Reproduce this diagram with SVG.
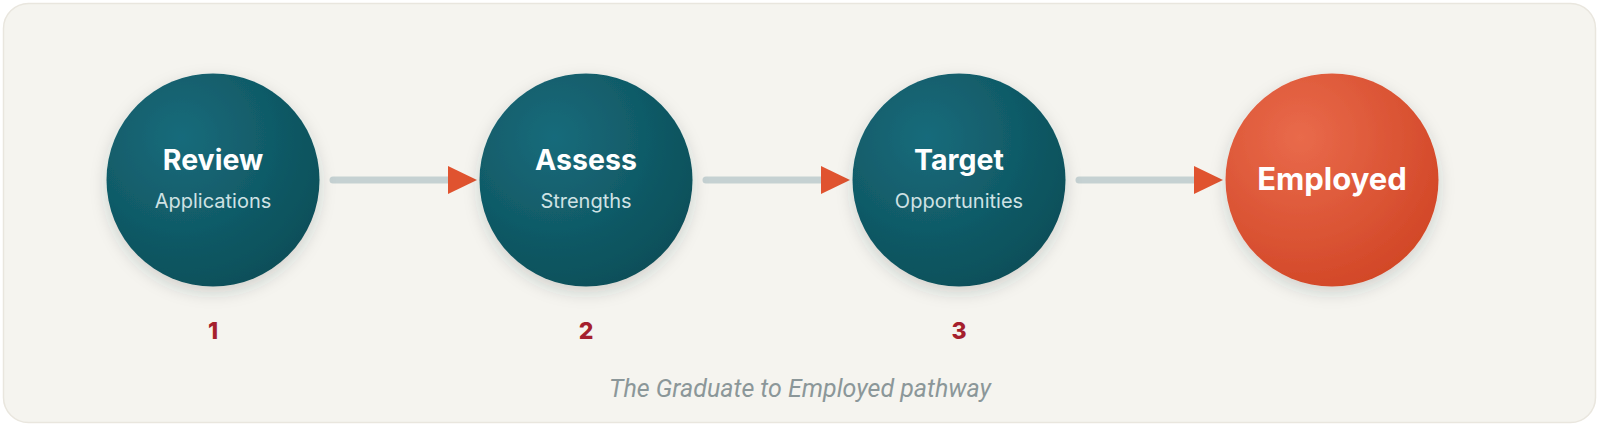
<svg xmlns="http://www.w3.org/2000/svg" width="1600" height="427" viewBox="0 0 1600 427">
<defs>
<radialGradient id="gTeal" cx="0.35" cy="0.3" r="0.75">
<stop offset="0" stop-color="#186b7b"/>
<stop offset="1" stop-color="#0b4f59"/>
</radialGradient>
<radialGradient id="gOrange" cx="0.35" cy="0.3" r="0.75">
<stop offset="0" stop-color="#e96a4b"/>
<stop offset="1" stop-color="#d24727"/>
</radialGradient>
<filter id="shadow" x="-30%" y="-30%" width="160%" height="160%">
<feDropShadow dx="0" dy="6" stdDeviation="8" flood-color="#1d3a3a" flood-opacity="0.18"/>
</filter>
<marker id="arrow" viewBox="0 0 29 28" refX="0" refY="14" markerWidth="29" markerHeight="28" markerUnits="userSpaceOnUse" orient="auto">
<path d="M0,0 L29,14 L0,28 Z" fill="#e0532f"/>
</marker>
</defs>
<style>
.title{font-family:Inter,"Liberation Sans",sans-serif;font-weight:700;font-size:28.5px;fill:#ffffff;text-anchor:middle}
.sub{font-family:Inter,"Liberation Sans",sans-serif;font-weight:400;font-size:20px;fill:#cfe2e4;text-anchor:middle}
.num{font-family:Inter,"Liberation Sans",sans-serif;font-weight:800;font-size:23px;fill:#a51f2d;text-anchor:middle}
.cap{font-family:Roboto,"Liberation Sans",sans-serif;font-style:italic;font-size:25px;fill:#8b9799;text-anchor:middle}
.conn{stroke:#c5d1d2;stroke-width:7;stroke-linecap:round;fill:none}
</style>
<rect x="0" y="0" width="1600" height="427" fill="#ffffff"/>
<rect x="3.5" y="3.5" width="1592" height="419" rx="25" ry="25" fill="#f5f4ef" stroke="#e9e6de" stroke-width="1.5"/>
<g id="connectors">
<line class="conn" x1="333" y1="180" x2="448" y2="180" marker-end="url(#arrow)"/>
<line class="conn" x1="706" y1="180" x2="821" y2="180" marker-end="url(#arrow)"/>
<line class="conn" x1="1079" y1="180" x2="1194" y2="180" marker-end="url(#arrow)"/>
</g>
<g id="node-review">
<circle cx="213" cy="180" r="106.5" fill="url(#gTeal)" filter="url(#shadow)"/>
<text class="title" x="213" y="170">Review</text>
<text class="sub" x="213" y="208">Applications</text>
</g>
<g id="node-assess">
<circle cx="586" cy="180" r="106.5" fill="url(#gTeal)" filter="url(#shadow)"/>
<text class="title" x="586" y="170">Assess</text>
<text class="sub" x="586" y="208">Strengths</text>
</g>
<g id="node-target">
<circle cx="959" cy="180" r="106.5" fill="url(#gTeal)" filter="url(#shadow)"/>
<text class="title" x="959" y="170">Target</text>
<text class="sub" x="959" y="208">Opportunities</text>
</g>
<g id="node-employed">
<circle cx="1332" cy="180" r="106.5" fill="url(#gOrange)" filter="url(#shadow)"/>
<text class="title" x="1332" y="190" style="font-size:31px">Employed</text>
</g>
<g id="labels">
<text class="num" x="213" y="339">1</text>
<text class="num" x="586" y="339">2</text>
<text class="num" x="959" y="339">3</text>
<text class="cap" x="800" y="397">The Graduate to Employed pathway</text>
</g>
</svg>
